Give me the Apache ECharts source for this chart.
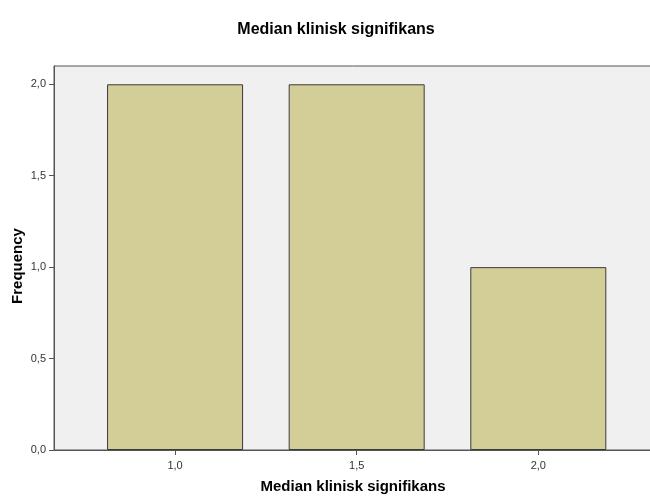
<!DOCTYPE html>
<html>
<head>
<meta charset="utf-8">
<script src="https://cdn.jsdelivr.net/npm/echarts@6/dist/echarts.min.js"></script>
<style>
html,body{margin:0;padding:0;background:#fff;}
#chart{width:650px;height:497px;}
</style>
</head>
<body>
<div id="chart"></div>
<script>
var categories = [1.0, 1.5, 2.0];
var frequencies = [2, 2, 1];
var yTicks = [0, 0.5, 1.0, 1.5, 2.0];

var fmt = function (v) { return v.toFixed(1).replace('.', ','); };
var font = '"Liberation Sans", Arial, sans-serif';

var chart = echarts.init(document.getElementById('chart'));
chart.setOption({
  animation: false,
  backgroundColor: '#ffffff',
  title: {
    text: 'Median klinisk signifikans',
    left: 331, top: 17, textAlign: 'center',
    textStyle: { fontFamily: font, fontSize: 16, fontWeight: 'bold', color: '#000' }
  },
  grid: {
    left: 54, right: -2, top: 66, bottom: 47,
    outerBoundsMode: 'none', containLabel: false,
    show: true, backgroundColor: '#f0f0f0', borderColor: '#555', borderWidth: 1
  },
  xAxis: {
    type: 'value', min: 0.6667, max: 2.313,
    name: 'Median klinisk signifikans', nameLocation: 'middle', nameGap: 29,
    nameMoveOverlap: false,
    nameTextStyle: { fontFamily: font, fontSize: 15, fontWeight: 'bold', color: '#000' },
    axisLine: { show: true, lineStyle: { color: '#555', width: 1 } },
    axisTick: { show: true, length: 5, customValues: categories, lineStyle: { color: '#555' } },
    axisLabel: { customValues: categories, formatter: fmt, fontFamily: font, fontSize: 11, color: '#333', margin: 10 },
    splitLine: { show: false }
  },
  yAxis: {
    type: 'value', min: 0, max: 2.1,
    name: 'Frequency', nameLocation: 'middle', nameGap: 29, nameRotate: 90,
    nameMoveOverlap: false,
    nameTextStyle: { fontFamily: font, fontSize: 15, fontWeight: 'bold', color: '#000', padding: [0, 16, 0, 0] },
    axisLine: { show: true, lineStyle: { color: '#555', width: 1 } },
    axisTick: { show: true, length: 5, customValues: yTicks, lineStyle: { color: '#555' } },
    axisLabel: { customValues: yTicks, formatter: fmt, fontFamily: font, fontSize: 11, color: '#333', margin: 8 },
    splitLine: { show: false }
  },
  series: [{
    type: 'bar',
    barWidth: 136,
    data: categories.map(function (c, i) { return [c, frequencies[i]]; }),
    itemStyle: { color: '#d3ce97', borderColor: '#3a3a3a', borderWidth: 1 }
  }]
});
</script>
</body>
</html>
